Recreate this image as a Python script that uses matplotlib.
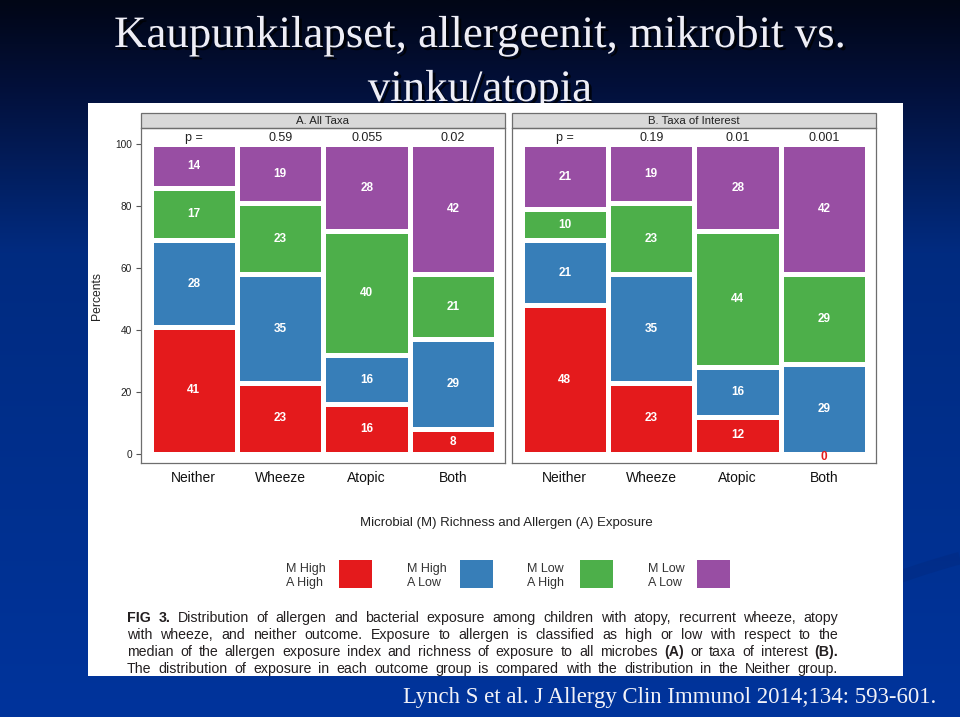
import numpy as np
import matplotlib
matplotlib.use('Agg')
import matplotlib.pyplot as plt
from matplotlib.patches import Rectangle, PathPatch
from matplotlib.path import Path
from matplotlib.colors import LinearSegmentedColormap
from matplotlib.transforms import Bbox, TransformedBbox
import matplotlib.patheffects as pe

plt.rcParams['font.family'] = ['Liberation Sans', 'DejaVu Sans']

# outcome groups and exposure classes
groups = ['Neither', 'Wheeze', 'Atopic', 'Both']
exposures = ['M High\nA High', 'M High\nA Low', 'M Low\nA High', 'M Low\nA Low']
colors = ['#e41a1c', '#377eb8', '#4daf4a', '#984ea3']

# percents: one row per exposure class, one column per outcome group
all_taxa = [[41, 23, 16, 8],
            [28, 35, 16, 29],
            [17, 23, 40, 21],
            [14, 19, 28, 42]]
taxa_interest = [[48, 23, 12, 0],
                 [21, 35, 16, 29],
                 [10, 23, 44, 29],
                 [21, 19, 28, 42]]
p_all = ['p =', '0.59', '0.055', '0.02']
p_interest = ['p =', '0.19', '0.01', '0.001']

title_lines = ['Kaupunkilapset, allergeenit, mikrobit vs.', 'vinku/atopia']
citation = 'Lynch S et al. J Allergy Clin Immunol 2014;134: 593-601.'
caption = [
    "FIG 3. Distribution of allergen and bacterial exposure among children with atopy, recurrent wheeze, atopy",
    "with wheeze, and neither outcome. Exposure to allergen is classified as high or low with respect to the",
    "median of the allergen exposure index and richness of exposure to all microbes (A) or taxa of interest (B).",
    "The distribution of exposure in each outcome group is compared with the distribution in the Neither group.",
]

W, H = 960, 717
fig = plt.figure(figsize=(9.6, 7.17), dpi=100)

# slide background, drawn in pixel coordinates
bg = fig.add_axes([0, 0, 1, 1])
bg.set_xlim(0, W)
bg.set_ylim(H, 0)
bg.axis('off')
cmap = LinearSegmentedColormap.from_list(
    'slide', [(0, '#010616'), (0.12, '#03103a'), (0.35, '#012b80'), (1, '#00349c')])
bg.imshow(np.linspace(0, 1, 256)[:, None], cmap=cmap, extent=(0, W, H, 0), aspect='auto')
# faint swirl at the lower right
swirl = Path([(760, 640), (860, 585), (960, 558)], [Path.MOVETO, Path.CURVE3, Path.CURVE3])
bg.add_patch(PathPatch(swirl, fc='none', ec='#022a82', lw=9, alpha=0.5))
bg.add_patch(Rectangle((88, 103), 815, 573, fc='white', ec='none', zorder=3))

shadow = [pe.SimplePatchShadow(offset=(2, -2), shadow_rgbFace='black', alpha=0.75), pe.Normal()]
for s, yb in zip(title_lines, [47, 101]):
    bg.text(480, yb, s, ha='center', va='baseline', family='Liberation Serif', size=32.3,
            color='#eeeef6', path_effects=shadow, zorder=2)

bg.text(403, 698, citation, ha='left', va='center',
        family='Liberation Serif', size=16.4, color='#f2f2f8', zorder=4)


def facet(left, right, data, pvals, strip, first):
    top, bot = 128, 463
    ax = fig.add_axes([left / W, 1 - bot / H, (right - left) / W, (bot - top) / H])
    x = np.arange(len(groups))
    base = np.zeros(len(groups))
    for vals, c in zip(data, colors):
        vals = np.array(vals, float)
        ax.bar(x, vals, bottom=base, width=1.0, color=c, edgecolor='white', linewidth=3.6)
        for xi, v, b0 in zip(x, vals, base):
            if v > 0:
                ax.text(xi, b0 + v / 2, f'{v:.0f}', ha='center', va='center',
                        color='white', weight='bold', size=8.5)
            else:
                ax.text(xi, b0 - 1.1, '0', ha='center', va='center',
                        color=c, weight='bold', size=8.5)
        base += vals
    for xi, p in zip(x, pvals):
        ax.text(xi, 102, p, ha='center', va='center', size=9, color='#222222')
    ax.set_xlim(-0.61, 3.6)
    ax.set_ylim(-2.9, 105.2)
    ax.set_xticks(x, groups)
    ax.set_yticks([0, 20, 40, 60, 80, 100])
    ax.tick_params(axis='x', length=0, pad=6, labelsize=10, labelcolor='#111111')
    ax.tick_params(axis='y', length=3.6, pad=3, labelsize=7.3, color='#555555', labelcolor='#222222')
    if first:
        ax.set_ylabel('Percents', size=8.7, color='#222222')
        ax.yaxis.set_label_coords(-0.104, 0.5)
    else:
        ax.tick_params(axis='y', left=False, labelleft=False)
    for s in ax.spines.values():
        s.set_color('#6e6e6e')
        s.set_linewidth(0.9)
    h = 15 / (bot - top)
    ax.add_patch(Rectangle((0, 1), 1, h, transform=ax.transAxes, clip_on=False,
                           fc='#d9d9d9', ec='#6e6e6e', lw=0.9))
    ax.text(0.5, 1 + h / 2, strip, transform=ax.transAxes, ha='center', va='center',
            size=8.2, color='#222222')
    return ax


facet(141, 505, all_taxa, p_all, 'A. All Taxa', True)
facet(512, 876, taxa_interest, p_interest, 'B. Taxa of Interest', False)

# legend
bg.text(506, 523, 'Microbial (M) Richness and Allergen (A) Exposure', ha='center', va='center',
        size=9.5, color='#222222', zorder=4)
for lab, c, xl, xs in zip(exposures, colors, [286, 407, 527, 648], [339, 460, 580, 697]):
    for part, yb in zip(lab.split('\n'), [572, 586]):
        bg.text(xl, yb, part, ha='left', va='baseline', size=9, color='#333333', zorder=4)
    bg.add_patch(Rectangle((xs, 560), 33, 28, fc=c, ec='none', zorder=4))

# justified caption, clipped at the bottom of the white panel
clip = TransformedBbox(Bbox([[88, 103], [903, 676]]), bg.transData)
bold_words = {'FIG', '3.', '(A)', '(B).'}
r = fig.canvas.get_renderer()
x0, x1 = 127, 838
for line, yb in zip(caption, [622, 639, 656, 673]):
    objs = [bg.text(0, yb, w, ha='left', va='baseline', size=10.2, zorder=4,
                    weight='bold' if w in bold_words else 'normal', color='#231f20',
                    clip_on=True, clip_box=clip)
            for w in line.split(' ')]
    widths = [o.get_window_extent(r).width for o in objs]
    gap = (x1 - x0 - sum(widths)) / (len(objs) - 1)
    x = x0
    for o, w in zip(objs, widths):
        o.set_x(x)
        x += w + gap

fig.savefig('out.png', dpi=100)
